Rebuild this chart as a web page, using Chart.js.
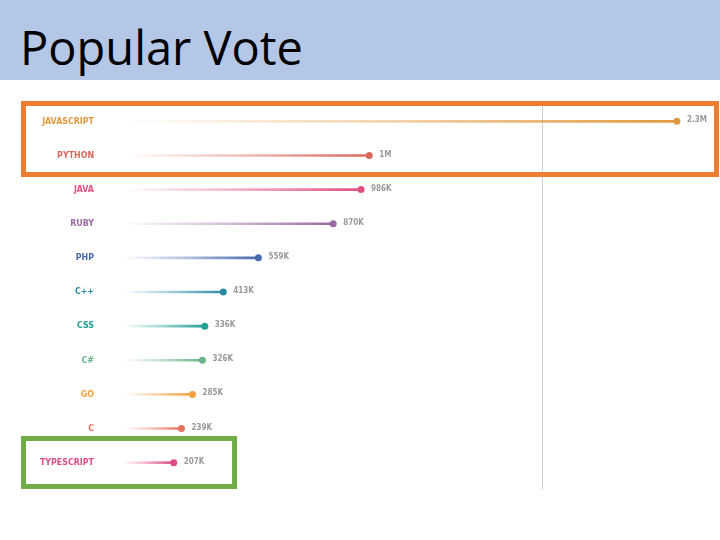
<!DOCTYPE html>
<html>
<head>
<meta charset="utf-8">
<script src="https://cdn.jsdelivr.net/npm/chart.js@4"></script>
<style>
    html, body { margin: 0; padding: 0; background: #fff; }
    #slide { position: relative; width: 720px; height: 540px; overflow: hidden; }
    #header { position: absolute; left: 0; top: 0; width: 720px; height: 80px; background: #b4c7e7; }
    #header h1 { margin: 0; position: absolute; left: 20px; top: 19px; font-family: "Open Sans", sans-serif; font-weight: 400; font-size: 47px; line-height: 1.2; color: #000; }
    #chartWrap { position: absolute; left: 0; top: 77px; width: 720px; height: 430px; }
    .box { position: absolute; box-sizing: border-box; border-style: solid; border-width: 5px; }
    #boxTop { left: 21px; top: 101px; width: 698px; height: 76px; border-color: #ed7d31; }
    #boxTs { left: 21px; top: 436px; width: 216px; height: 53px; border-color: #70ad47; }
</style>
</head>
<body>
<div id="slide">
    <div id="header"><h1>Popular Vote</h1></div>
    <div id="chartWrap"><canvas id="voteChart" width="720" height="430"></canvas></div>
    <div class="box" id="boxTop"></div>
    <div class="box" id="boxTs"></div>
</div>
<script>
const languages = ['JAVASCRIPT', 'PYTHON', 'JAVA', 'RUBY', 'PHP', 'C++', 'CSS', 'C#', 'GO', 'C', 'TYPESCRIPT'];
const votes = [2300000, 1020000, 986000, 870000, 559000, 413000, 336000, 326000, 285000, 239000, 207000];
const langColors = ['#e0993f', '#d9675a', '#e0507e', '#9b6aa3', '#4a6aad', '#2b8aa3', '#1fa192', '#6cb58a', '#f0a040', '#e5735f', '#dd4d85'];
const axisMax = 2400000;
const dividerValue = 1740000;

function formatVotes(v) {
    if (v >= 1000000) return +(v / 1000000).toFixed(1) + 'M';
    return Math.round(v / 1000) + 'K';
}

function hexToRgba(hex, a) {
    const n = parseInt(hex.slice(1), 16);
    return 'rgba(' + (n >> 16) + ',' + ((n >> 8) & 255) + ',' + (n & 255) + ',' + a + ')';
}

// fading stem from zero up to the dot
function stemGradient(context) {
    const chart = context.chart;
    const { ctx, chartArea, scales } = chart;
    if (!chartArea) return langColors[context.dataIndex];
    const color = langColors[context.dataIndex];
    const x0 = scales.x.getPixelForValue(0);
    const x1 = scales.x.getPixelForValue(votes[context.dataIndex]);
    const g = ctx.createLinearGradient(x0, 0, x1, 0);
    g.addColorStop(0, hexToRgba(color, 0));
    g.addColorStop(0.5, hexToRgba(color, 0.45));
    g.addColorStop(1, color);
    return g;
}

const dividerPlugin = {
    id: 'divider',
    beforeDatasetsDraw(chart) {
        const { ctx, chartArea, scales } = chart;
        const x = Math.round(scales.x.getPixelForValue(dividerValue)) + 0.5;
        ctx.save();
        ctx.strokeStyle = '#d0d0d0';
        ctx.lineWidth = 1;
        ctx.beginPath();
        ctx.moveTo(x, chartArea.top - 4);
        ctx.lineTo(x, chartArea.bottom + 10);
        ctx.stroke();
        ctx.restore();
    }
};

const valueLabelPlugin = {
    id: 'valueLabels',
    afterDatasetsDraw(chart) {
        const { ctx } = chart;
        const meta = chart.getDatasetMeta(1);
        ctx.save();
        ctx.font = '600 8px "DejaVu Sans Condensed", "DejaVu Sans", sans-serif';
        ctx.fillStyle = '#999999';
        ctx.textBaseline = 'middle';
        ctx.textAlign = 'left';
        meta.data.forEach((pt, i) => {
            ctx.fillText(formatVotes(votes[i]), pt.x + 10, pt.y - 1);
        });
        ctx.restore();
    }
};

let voteChart = null;

function createVoteChart() {
    const ctx = document.getElementById('voteChart');
    if (!ctx) return;

    voteChart = new Chart(ctx, {
        type: 'bar',
        data: {
            labels: languages,
            datasets: [{
                data: votes,
                backgroundColor: stemGradient,
                borderWidth: 0,
                barThickness: 2,
                order: 2
            }, {
                type: 'line',
                indexAxis: 'y',
                data: votes,
                showLine: false,
                pointRadius: 3.5,
                pointHoverRadius: 3.5,
                pointBackgroundColor: langColors,
                pointBorderWidth: 0,
                order: 1
            }]
        },
        options: {
            indexAxis: 'y',
            responsive: false,
            animation: false,
            layout: { padding: { top: 4.7, bottom: 18.7, left: 0, right: 19 } },
            plugins: {
                legend: { display: false },
                tooltip: { enabled: false }
            },
            scales: {
                x: {
                    display: false,
                    min: 0,
                    max: axisMax
                },
                y: {
                    offset: true,
                    grid: { display: false },
                    border: { display: false },
                    afterFit(scale) { scale.width = 124; },
                    ticks: {
                        padding: 22,
                        color: (c) => langColors[c.index],
                        font: { family: '"DejaVu Sans Condensed", "DejaVu Sans", sans-serif', size: 8.8, weight: 'bold' }
                    }
                }
            }
        },
        plugins: [dividerPlugin, valueLabelPlugin]
    });
}

createVoteChart();
</script>
</body>
</html>
